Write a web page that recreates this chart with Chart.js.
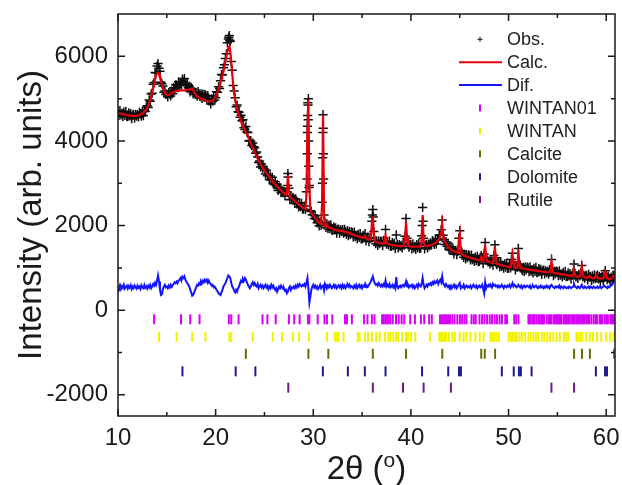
<!DOCTYPE html>
<html><head><meta charset="utf-8">
<script src="https://cdn.jsdelivr.net/npm/chart.js@4.4.1/dist/chart.umd.min.js"></script>
<style>html,body{margin:0;padding:0;background:#fff}#wrap{width:622px;height:485px;position:relative}</style>
</head><body><div id="wrap"><canvas id="c"></canvas></div>
<script>
// 2-theta grid (measurement step)
const thetaStart = 10.0;
const thetaStep = 0.1;

// Observed intensity (one value per 0.1 deg, 10.0 .. 60.8)
const obsI = [
4700,4605,4720,4615,4650,4575,4680,4605,4700,4575,
4580,4665,4590,4647,4524,4611,4630,4540,4622,4585,
4620,4567,4675,4635,4587,4682,4600,4732,4698,4800,
4830,4790,4970,4940,5110,5130,5340,5380,5620,5610,
5770,5830,5720,5650,5390,5350,5300,5150,5180,5100,
5110,5040,5145,5110,5065,5180,5115,5260,5230,5328,
5322,5255,5398,5320,5382,5333,5464,5395,5476,5337,
5318,5360,5255,5295,5160,5240,5235,5110,5160,5100,
5120,5060,5165,5120,5048,5115,5005,5105,5035,5095,
5075,4977,5070,4945,4963,4875,4995,4940,5060,4970,
5020,5160,5150,5280,5240,5420,5570,5560,5730,5800,
5950,6060,6320,6410,6490,6350,5880,5670,5310,5180,
5020,4810,4850,4690,4680,4560,4610,4480,4500,4310,
4270,4340,4210,4200,4000,4010,4000,3890,3950,3860,
3840,3710,3740,3620,3490,3525,3385,3455,3355,3390,
3340,3220,3310,3180,3190,3090,3170,3070,3140,2990,
2970,3035,2940,2975,2830,2895,2892,2780,2838,2777,
2786,2706,2787,2800,3230,2880,2610,2700,2620,2670,
2640,2530,2630,2510,2530,2440,2532,2445,2528,2392,
2386,2460,2380,2800,4350,5000,2950,2350,2330,2255,
2255,2165,2235,2155,2065,2120,1995,2085,2010,2550,
4620,2250,2065,1955,2040,1925,2010,1930,2020,1890,
1890,1972,1895,1948,1821,1905,1919,1823,1898,1860,
1905,1822,1910,1855,1790,1880,1760,1860,1790,1850,
1832,1734,1846,1738,1770,1692,1795,1718,1811,1684,
1687,1770,1710,1810,1635,1710,1720,1622,1695,1710,
2100,2380,1860,1650,1570,1640,1530,1635,1570,1635,
1620,1525,1650,1620,1910,1560,1620,1542,1636,1510,
1515,1600,1526,1582,1458,1780,1562,1470,1548,1506,
1534,1472,1575,1540,1750,2170,1700,1580,1490,1555,
1543,1451,1570,1470,1510,1440,1550,1481,1582,1463,
1475,1760,2430,1700,1450,1532,1556,1471,1556,1522,
1590,1538,1647,1607,1558,1650,1565,1695,1660,1770,
1780,1900,2130,1770,1670,1550,1620,1510,1580,1435,
1425,1500,1415,1460,1328,1406,1415,1315,1390,1700,
1880,1410,1380,1320,1250,1320,1210,1312,1244,1306,
1288,1190,1302,1195,1228,1151,1255,1179,1273,1147,
1152,1238,1290,1240,1100,1330,1600,1220,1190,1140,
1162,1094,1187,1130,1064,1290,1545,1240,1075,1138,
1122,1026,1140,1034,1068,992,1096,1020,1114,988,
992,1076,1001,1200,1345,1140,1050,955,1032,1020,
1460,1080,1060,1005,940,1015,910,1016,952,1018,
1004,910,1026,922,958,884,990,916,1013,890,
897,984,911,968,845,932,949,856,933,890,
917,854,960,970,1200,990,815,920,856,922,
908,814,930,826,862,788,894,820,916,792,
798,884,810,866,742,830,880,1090,870,790,
815,752,850,810,880,1055,790,825,758,824,
810,717,845,780,800,702,810,738,836,750,
800,830,742,800,680,770,792,705,860,935,
840,720,800,745,690,780,695,830,813
];

// Extra observed points on the steep flanks of the sharp peaks
const obsExtraX = [21.35,21.45,27.38,27.42,29.36,29.38,29.40,29.42,29.44,29.46,29.48,29.52,29.54,29.56,30.94,30.96,30.98,31.02,31.04,31.06,36.05,36.15,41.15,41.25];
const obsExtraY = [6450,6380,2950,3150,3100,3700,4200,4600,4900,4850,4500,4000,3400,2900,3000,3600,4200,4300,3700,3100,2250,2200,2000,2100];

// Calculated profile
const calcI = [
4660,4655,4650,4645,4640,4635,4630,4625,4620,4615,
4610,4605,4600,4597,4594,4591,4590,4590,4592,4595,
4600,4607,4615,4625,4637,4652,4670,4692,4718,4750,
4790,4840,4900,4970,5050,5140,5240,5350,5460,5550,
5600,5610,5580,5500,5410,5330,5260,5200,5150,5110,
5090,5080,5085,5100,5115,5130,5145,5160,5170,5178,
5182,5185,5188,5190,5192,5193,5194,5195,5196,5197,
5198,5200,5205,5215,5230,5240,5235,5200,5150,5110,
5080,5060,5045,5030,5018,5005,4995,4985,4975,4965,
4955,4947,4940,4935,4933,4935,4945,4960,4980,5010,
5050,5100,5160,5230,5310,5400,5480,5560,5650,5760,
5880,6000,6110,6200,6240,6120,5850,5580,5330,5130,
4980,4860,4760,4670,4590,4520,4460,4400,4340,4290,
4240,4200,4160,4110,4050,3990,3940,3890,3840,3790,
3740,3690,3640,3590,3540,3495,3455,3415,3375,3340,
3300,3270,3240,3210,3180,3150,3120,3090,3060,3030,
3000,2975,2950,2925,2900,2875,2852,2830,2808,2787,
2766,2746,2727,2760,3190,2850,2680,2660,2640,2620,
2600,2580,2560,2540,2520,2500,2482,2465,2448,2432,
2416,2400,2390,2750,4300,4980,2900,2400,2300,2265,
2235,2205,2175,2145,2115,2090,2065,2045,2030,2500,
4600,2300,1995,1985,2030,1985,1960,1950,1940,1930,
1920,1912,1905,1898,1891,1885,1879,1873,1868,1870,
1885,1862,1850,1845,1840,1850,1830,1820,1810,1800,
1792,1784,1776,1768,1760,1752,1745,1738,1731,1724,
1717,1710,1720,1760,1705,1690,1680,1672,1665,1720,
2050,2220,1800,1640,1620,1610,1600,1595,1590,1585,
1580,1575,1580,1650,1770,1620,1570,1562,1556,1550,
1545,1540,1536,1532,1528,1525,1522,1520,1518,1516,
1514,1512,1515,1530,1700,2090,1700,1540,1510,1505,
1503,1501,1500,1500,1500,1500,1500,1501,1502,1503,
1505,1700,2250,1650,1520,1512,1516,1521,1526,1532,
1540,1548,1557,1567,1578,1590,1605,1625,1650,1690,
1740,1850,2050,1800,1660,1610,1570,1530,1500,1475,
1455,1440,1425,1410,1398,1386,1375,1365,1360,1650,
1810,1450,1320,1310,1300,1290,1280,1272,1264,1256,
1248,1240,1232,1225,1218,1211,1205,1199,1193,1187,
1182,1178,1260,1190,1170,1300,1540,1260,1160,1150,
1142,1134,1127,1120,1114,1250,1500,1200,1095,1088,
1082,1076,1070,1064,1058,1052,1046,1040,1034,1028,
1022,1016,1011,1150,1305,1120,1010,1005,1002,1030,
1420,1120,1000,995,990,985,980,976,972,968,
964,960,956,952,948,944,940,936,933,930,
927,924,921,918,915,912,909,906,903,900,
897,894,900,960,1148,960,885,880,876,872,
868,864,860,856,852,848,844,840,836,832,
828,824,820,816,812,810,840,951,840,800,
795,792,790,800,860,1030,860,785,778,774,
770,767,775,810,790,762,760,758,756,790,
830,770,752,750,750,750,752,755,830,912,
820,760,740,735,740,750,765,790,833
];

// Difference curve (plotted with offset)
const difI = [
560,520,590,500,570,530,600,510,550,580,
510,570,530,590,500,560,520,580,540,510,
580,530,560,500,590,540,520,600,530,560,
510,580,540,600,520,560,620,580,650,600,
700,820,680,480,360,380,500,560,600,540,
560,520,580,540,600,550,590,620,660,640,
680,640,700,720,760,700,790,760,800,720,
680,640,600,560,480,420,340,360,420,480,
540,600,580,640,600,680,640,700,660,720,
680,720,650,700,640,620,580,600,540,560,
520,480,440,400,380,360,420,480,560,600,
640,700,760,820,800,760,640,560,520,460,
420,480,440,520,560,640,700,660,740,700,
760,720,660,600,560,520,560,620,660,600,
640,580,560,620,520,560,600,540,580,520,
560,600,540,580,500,560,520,600,540,580,
520,480,520,440,500,560,520,580,540,500,
520,460,480,400,440,520,560,480,540,520,
560,520,580,540,600,560,620,580,560,600,
580,620,560,650,760,520,180,320,480,560,
600,540,580,520,560,500,540,600,520,560,
580,470,620,560,520,580,540,600,560,520,
560,600,540,580,520,560,590,540,580,520,
600,540,580,520,560,620,560,600,540,570,
560,520,580,540,600,520,560,600,540,580,
520,580,560,620,540,580,560,600,640,680,
740,800,700,640,600,620,580,640,600,560,
600,560,620,580,700,560,600,560,620,540,
560,600,540,580,520,780,560,520,560,580,
540,580,600,560,600,680,560,600,540,580,
560,600,540,580,520,560,600,540,620,580,
560,620,760,600,520,560,600,560,620,600,
640,600,660,620,680,640,660,700,620,680,
720,660,800,640,600,560,620,580,540,580,
540,580,520,560,600,540,580,520,560,600,
640,520,560,540,600,520,560,580,540,560,
540,580,520,560,600,560,540,580,520,560,
580,540,560,600,500,400,660,520,580,560,
600,560,580,540,620,580,600,560,580,540,
580,540,560,600,560,520,580,560,540,580,
560,600,540,580,640,560,600,580,540,560,
600,560,540,580,520,560,580,540,560,580,
560,540,580,520,560,580,540,560,580,540,
520,560,540,580,540,560,520,560,540,580,
540,560,520,580,600,560,540,520,560,540,
560,540,580,520,560,540,520,560,540,520,
540,520,560,540,520,540,560,620,560,540,
520,560,540,520,560,600,540,520,560,540,
520,540,560,520,560,540,520,560,540,520,
540,560,520,540,560,520,540,560,580,560,
540,520,560,540,560,580,600,640,680
];

// Bragg reflection positions (2-theta) per phase
const wintan01 = [13.7,16.45,17.4,18.35,21.35,21.6,22.35,24.8,25.3,26.15,27.5,28.05,28.6,29.45,29.6,30.45,31.15,31.4,31.95,33.25,33.45,33.95,35.2,35.55,36.0,36.27,37.05,37.22,37.39,37.56,37.73,37.9,38.14,38.47,38.75,39.05,39.32,39.93,40.41,41.02,41.36,41.86,42.14,42.98,43.19,43.39,43.59,43.8,44.0,44.24,44.47,44.75,45.02,45.25,45.49,45.69,46.2,46.44,46.64,47.02,47.29,47.53,47.8,48.07,48.31,48.58,48.81,49.08,49.32,49.66,49.83,50.58,50.78,51.02,52.03,52.15,52.27,52.47,52.6,52.68,52.88,53.08,53.2,53.39,53.5,53.63,53.9,54.1,54.25,54.41,54.64,54.8,54.92,55.05,55.19,55.3,55.42,55.66,55.8,55.93,56.1,56.27,56.47,56.61,56.78,56.95,57.12,57.29,57.46,57.63,57.8,57.97,58.1,58.24,58.47,58.71,58.9,59.05,59.32,59.45,59.59,59.83,60.0,60.17,60.41,60.55,60.68,60.8];
const wintan = [14.2,16.0,17.6,18.95,21.4,21.6,23.8,25.85,26.8,27.9,28.55,29.55,31.4,32.2,32.4,32.6,33.1,34.55,34.75,35.3,35.6,36.0,36.45,36.8,37.35,37.7,37.9,38.2,38.5,38.7,39.1,39.5,39.7,40.0,40.45,41.95,42.9,43.05,43.2,43.4,43.6,43.9,44.25,44.5,45.0,45.4,45.7,46.1,46.6,47.05,47.45,48.15,48.35,48.55,48.75,49.0,50.0,50.17,50.34,50.5,50.68,50.85,51.12,51.36,51.7,52.03,52.27,52.54,52.8,53.05,53.4,53.66,53.97,54.24,54.58,54.92,55.25,55.66,55.86,56.1,56.95,57.15,57.36,57.56,57.97,58.31,58.64,59.05,59.49,60.0,60.41,60.75];
const calcite = [23.09,29.5,31.54,36.1,39.5,43.21,47.2,47.56,48.62,56.71,57.52,58.33,60.81];
const dolomite = [16.6,22.05,24.07,30.98,33.54,35.28,37.4,41.14,43.82,44.92,45.12,49.31,50.53,51.06,51.26,52.36,58.94,59.88,60.08];
const rutile = [27.44,36.1,39.19,41.3,44.1,54.39,56.71];

// Intensity level at which each phase's reflection marks are drawn
const levelWintan01 = -215;
const levelWintan = -630;
const levelCalcite = -1030;
const levelDolomite = -1445;
const levelRutile = -1830;

// Axis ticks
const xTicks = [10,20,30,40,50,60];
const xMinorTicks = [15,25,35,45,55];
const yTicks = [-2000,0,2000,4000,6000];
const yMinorTicks = [-1000,1000,3000,5000];

const legendLabels = ['Obs.','Calc.','Dif.','WINTAN01','WINTAN','Calcite','Dolomite','Rutile'];

// ---------------------------------------------------------------
const grid = obsI.map((_, i) => Math.round((thetaStart + i * thetaStep) * 100) / 100);
const pairs = (xs, ys) => xs.map((x, i) => ({x: x, y: ys[i]}));
const marks = (xs, lvl) => xs.map(x => ({x: x, y: lvl}));

const C = {
  obs: '#0d0d0d', calc: '#e3000b', dif: '#1414ff',
  w01: '#d600f8', w: '#f2f200', cal: '#6b6b00', dol: '#1c1c8e', rut: '#6b1b82', axis: '#1a1a1a'
};
const FONT = '"Liberation Sans", Arial, sans-serif';

function markSet(label, xs, lvl, color) {
  return {label, data: marks(xs, lvl), showLine: false, pointStyle: 'line', rotation: 90,
    pointRadius: 5, pointBorderWidth: 2, borderColor: color, backgroundColor: color, order: 3};
}

const decor = {
  id: 'decor',
  afterDraw(chart) {
    const {ctx, chartArea: a, scales: {x, y}} = chart;
    ctx.save();
    // frame
    ctx.strokeStyle = C.axis; ctx.lineWidth = 1.5;
    ctx.strokeRect(a.left, a.top, a.right - a.left, a.bottom - a.top);
    // inward ticks on all four sides
    ctx.beginPath();
    const xt = (v, L) => { const p = x.getPixelForValue(v); ctx.moveTo(p, a.bottom); ctx.lineTo(p, a.bottom - L); ctx.moveTo(p, a.top); ctx.lineTo(p, a.top + L); };
    const yt = (v, L) => { const p = y.getPixelForValue(v); ctx.moveTo(a.left, p); ctx.lineTo(a.left + L, p); ctx.moveTo(a.right, p); ctx.lineTo(a.right - L, p); };
    xTicks.forEach(v => xt(v, 7)); xMinorTicks.forEach(v => xt(v, 4));
    yTicks.forEach(v => yt(v, 7)); yMinorTicks.forEach(v => yt(v, 4));
    ctx.stroke();

    // axis titles
    ctx.fillStyle = C.axis;
    ctx.font = '33px ' + FONT;
    ctx.textBaseline = 'alphabetic';
    ctx.save();
    ctx.translate(41, (a.top + a.bottom) / 2);
    ctx.rotate(-Math.PI / 2);
    ctx.textAlign = 'center';
    ctx.fillText('Intensity (arb. units)', 0, 0);
    ctx.restore();

    const t1 = '2θ (', t2 = 'o', t3 = ')';
    ctx.font = '33px ' + FONT; const w1 = ctx.measureText(t1).width, w3 = ctx.measureText(t3).width;
    ctx.font = '21px ' + FONT; const w2 = ctx.measureText(t2).width;
    let xs0 = (a.left + a.right) / 2 - (w1 + w2 + w3) / 2;
    const base = 479;
    ctx.textAlign = 'left';
    ctx.font = '33px ' + FONT; ctx.fillText(t1, xs0, base);
    ctx.font = '21px ' + FONT; ctx.fillText(t2, xs0 + w1, base - 12);
    ctx.font = '33px ' + FONT; ctx.fillText(t3, xs0 + w1 + w2, base);

    // legend
    const lx = 507, sx = 480, y0 = 39.3, dy = 22.9;
    const kinds = [['cross', C.obs], ['line', C.calc], ['line', C.dif], ['tick', C.w01], ['tick', C.w], ['tick', C.cal], ['tick', C.dol], ['tick', C.rut]];
    ctx.font = '18px ' + FONT; ctx.textBaseline = 'middle'; ctx.textAlign = 'left';
    legendLabels.forEach((lab, i) => {
      const yy = y0 + i * dy;
      const [k, col] = kinds[i];
      ctx.strokeStyle = col;
      ctx.beginPath();
      if (k === 'cross') { ctx.lineWidth = 1; ctx.moveTo(sx - 2.5, yy); ctx.lineTo(sx + 2.5, yy); ctx.moveTo(sx, yy - 2.5); ctx.lineTo(sx, yy + 2.5); }
      else if (k === 'line') { ctx.lineWidth = 2; ctx.moveTo(459, yy); ctx.lineTo(502, yy); }
      else { ctx.lineWidth = 2; ctx.moveTo(sx, yy - 3.5); ctx.lineTo(sx, yy + 3.5); }
      ctx.stroke();
      ctx.fillStyle = '#222';
      ctx.fillText(lab, lx, yy + 1);
    });
    ctx.restore();
  }
};

new Chart(document.getElementById('c'), {
  type: 'scatter',
  data: {
    datasets: [
      {label: 'Calc.', data: pairs(grid, calcI), showLine: true, borderColor: C.calc, borderWidth: 2.2, pointRadius: 0, tension: 0, order: 0},
      {label: 'Dif.', data: pairs(grid, difI), showLine: true, borderColor: C.dif, borderWidth: 2, pointRadius: 0, tension: 0, order: 1},
      {label: 'Obs.', data: pairs(grid, obsI).concat(pairs(obsExtraX, obsExtraY)), showLine: false, pointStyle: 'cross', pointRadius: 4.6, pointBorderWidth: 1.5, borderColor: C.obs, backgroundColor: C.obs, order: 2},
      markSet('WINTAN01', wintan01, levelWintan01, C.w01),
      markSet('WINTAN', wintan, levelWintan, C.w),
      markSet('Calcite', calcite, levelCalcite, C.cal),
      markSet('Dolomite', dolomite, levelDolomite, C.dol),
      markSet('Rutile', rutile, levelRutile, C.rut)
    ]
  },
  options: {
    responsive: true, maintainAspectRatio: false, animation: false, events: [],
    layout: {padding: {top: 14, right: 4, left: 0, bottom: 0}},
    plugins: {legend: {display: false}, tooltip: {enabled: false}, title: {display: false}},
    scales: {
      x: {
        type: 'linear', min: 10, max: 60.9,
        afterBuildTicks: s => { s.ticks = xTicks.map(v => ({value: v})); },
        afterFit: s => { s.height = 69; s.paddingLeft = 0; s.paddingRight = 0; },
        grid: {display: false, drawTicks: false}, border: {display: false},
        ticks: {font: {family: FONT, size: 24}, color: C.axis, padding: 8, maxRotation: 0, autoSkip: false, callback: v => String(v)}
      },
      y: {
        type: 'linear', min: -2500, max: 7000,
        afterBuildTicks: s => { s.ticks = yTicks.map(v => ({value: v})); },
        afterFit: s => { s.width = 118; s.paddingTop = 0; s.paddingBottom = 0; },
        grid: {display: false, drawTicks: false}, border: {display: false},
        ticks: {font: {family: FONT, size: 24}, color: C.axis, padding: 10, autoSkip: false, callback: v => String(v)}
      }
    }
  },
  plugins: [decor]
});
</script>
</body></html>
